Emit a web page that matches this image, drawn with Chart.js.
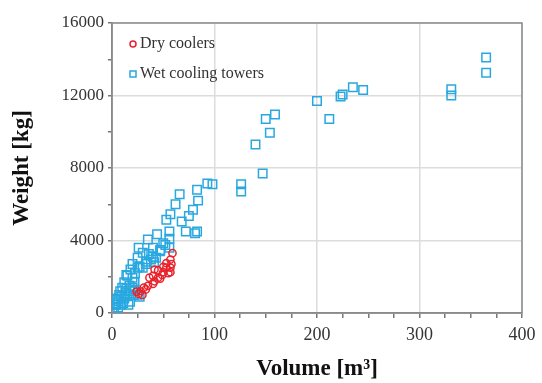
<!DOCTYPE html>
<html>
<head>
<meta charset="utf-8">
<script src="https://cdn.jsdelivr.net/npm/chart.js@4"></script>
<style>
  html, body { margin: 0; padding: 0; background: #fff; }
  #wrap { width: 542px; height: 383px; }
</style>
</head>
<body>
<div id="wrap"><canvas id="chart_weightVolume"></canvas></div>
<script>
// values
var dryLabel = 'Dry coolers';
var dryVolume = [59, 57, 58, 57, 53, 50, 45, 41.5, 40, 36.5, 41.5, 35, 31, 28, 29.7, 26, 45, 49, 40, 33, 53, 57, 24, 55, 47, 50];
var dryWeight = [3300, 2950, 2700, 2250, 2500, 2250, 2350, 2400, 2050, 1950, 1750, 1500, 1400, 1200, 1000, 1050, 1950, 2100, 1600, 1300, 2750, 2500, 1180, 2200, 1900, 2550];

var wetLabel = 'Wet cooling towers';
var wetVolume = [365, 365, 331, 331, 245, 235, 225, 223, 212, 200, 159, 150, 154, 140, 147, 126, 126, 98, 93, 83,
                 84, 79, 75, 83, 81, 72, 68, 66, 62, 57, 53, 56, 56, 52, 44, 47, 40, 35, 36, 26,
                 25, 30, 20, 20, 17, 13, 9, 6, 4, 2, 0.5, 8, 3, 11, 16, 25, 20, 33, 43, 56,
                 14, 25, 38, 41, 30, 18, 22, 10, 15, 12, 7, 5, 3, 6, 9, 12, 15, 18, 22, 14,
                 34, 40, 47, 50, 27, 22.4, 21, 17.6, 27];
var wetWeight = [14100, 13250, 12350, 12000, 12300, 12450, 12050, 11950, 10700, 11700, 10950, 10700, 9950, 9300, 7700, 7100, 6700, 7100, 7150, 6800,
                 6200, 5700, 5350, 4500, 4400, 4500, 5050, 6550, 6000, 5450, 5150, 4500, 4100, 3750, 4350, 3400, 3600, 4050, 3250, 3600,
                 3050, 2500, 2700, 1950, 1500, 1100, 900, 650, 450, 180, 50, 1200, 750, 550, 450, 1000, 1400, 2700, 3050, 3600,
                 2100, 2500, 2950, 2800, 3320, 2400, 1700, 1400, 2050, 1700, 1000, 800, 450, 300, 450, 800, 1000, 1200, 1300, 1350,
                 2830, 3100, 3480, 3850, 2550, 2190, 990, 620, 900];

var xTitle = 'Volume [m\u00b3]';
var yTitle = 'Weight [kg]';
var xMax = 400, xMajor = 100, xMinor = 25;
var yMax = 16000, yMajor = 4000, yMinor = 2000;

var dryColor = '#e8232b';
var wetColor = '#29a8e0';

function toPoints(xs, ys) {
    return xs.map(function (x, i) { return {x: x, y: ys[i]}; });
}

var serif = '"Liberation Serif", "Times New Roman", serif';

var chart_weightVolume = new Chart(document.getElementById('chart_weightVolume'), {
    type: 'scatter',
    data: {
        datasets: [
            {
                label: dryLabel,
                data: toPoints(dryVolume, dryWeight),
                pointStyle: 'circle',
                pointRadius: 3.6,
                borderWidth: 1.5,
                borderColor: dryColor,
                backgroundColor: 'rgba(255,255,255,0)',
                order: 0
            },
            {
                label: wetLabel,
                data: toPoints(wetVolume, wetWeight),
                pointStyle: 'rect',
                pointRadius: 6,
                borderWidth: 1.5,
                borderColor: wetColor,
                backgroundColor: 'rgba(255,255,255,0)',
                order: 1
            }
        ]
    },
    options: {
        animation: false,
        responsive: true,
        maintainAspectRatio: false,
        layout: {
            padding: {top: 23, right: 20, left: 0, bottom: 0}
        },
        plugins: {
            legend: {display: false},
            tooltip: {enabled: false}
        },
        scales: {
            x: {
                type: 'linear',
                min: 0,
                max: xMax,
                afterFit: function (scale) { scale.height = 70; },
                title: {
                    display: true,
                    text: xTitle,
                    color: '#111',
                    font: {family: serif, size: 23, weight: 'bold'},
                    padding: {top: 0, bottom: 0}
                },
                ticks: {
                    stepSize: xMinor,
                    autoSkip: false,
                    maxRotation: 0,
                    padding: 6,
                    color: '#333',
                    font: {family: serif, size: 18},
                    callback: function (v) { return v % xMajor === 0 ? v : ''; }
                },
                grid: {
                    color: function (c) { return c.tick && c.tick.value % xMajor === 0 ? '#dcdcdc' : 'rgba(0,0,0,0)'; },
                    lineWidth: 1.5,
                    tickColor: '#777',
                    tickLength: 5
                },
                border: {display: true, color: '#8a8a8a', width: 1.5}
            },
            y: {
                type: 'linear',
                min: 0,
                max: yMax,
                afterFit: function (scale) { scale.width = 112; },
                title: {
                    display: true,
                    text: yTitle,
                    color: '#111',
                    font: {family: serif, size: 23, weight: 'bold'},
                    padding: {top: 8, bottom: 0}
                },
                ticks: {
                    stepSize: yMinor,
                    autoSkip: false,
                    padding: 4,
                    color: '#333',
                    font: {family: serif, size: 17},
                    callback: function (v) { return v % yMajor === 0 ? v : ''; }
                },
                grid: {
                    color: function (c) { return c.tick && c.tick.value % yMajor === 0 ? '#dcdcdc' : 'rgba(0,0,0,0)'; },
                    lineWidth: 1.5,
                    tickColor: '#777',
                    tickLength: 4
                },
                border: {display: true, color: '#8a8a8a', width: 1.5}
            }
        }
    },
    plugins: [{
        id: 'frameAndLegend',
        beforeDraw: function (chart) {
            var ctx = chart.ctx;
            ctx.save();
            ctx.fillStyle = 'white';
            ctx.fillRect(0, 0, chart.width, chart.height);
            ctx.restore();
        },
        beforeDatasetsDraw: function (chart) {
            var a = chart.chartArea, ctx = chart.ctx;
            ctx.save();
            ctx.strokeStyle = '#8a8a8a';
            ctx.lineWidth = 1.5;
            ctx.strokeRect(a.left, a.top, a.right - a.left, a.bottom - a.top);
            ctx.restore();
        },
        afterDraw: function (chart) {
            // legend box sits inside the plot, top left
            var a = chart.chartArea, ctx = chart.ctx;
            var mx = a.left + 21, tx = a.left + 28;
            var rows = [
                {ds: chart.data.datasets[0], y: a.top + 21},
                {ds: chart.data.datasets[1], y: a.top + 51}
            ];
            ctx.save();
            ctx.font = '16px ' + serif;
            ctx.textBaseline = 'middle';
            ctx.fillStyle = '#333';
            rows.forEach(function (r) {
                ctx.strokeStyle = r.ds.borderColor;
                ctx.lineWidth = 1.5;
                ctx.beginPath();
                if (r.ds.pointStyle === 'rect') {
                    ctx.rect(mx - 3, r.y - 3, 6, 6);
                } else {
                    ctx.arc(mx, r.y, 3, 0, Math.PI * 2);
                }
                ctx.stroke();
                ctx.fillText(r.ds.label, tx, r.y);
            });
            ctx.restore();
        }
    }]
});
</script>
</body>
</html>
